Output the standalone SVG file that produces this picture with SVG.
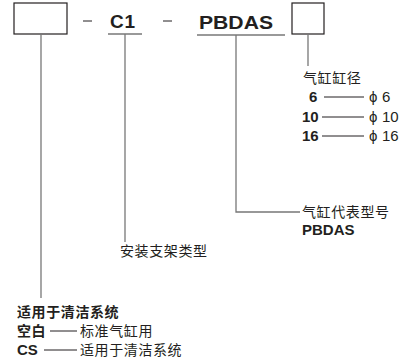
<svg xmlns="http://www.w3.org/2000/svg" width="404" height="361" viewBox="0 0 404 361">
<style>
.bx{fill:#fff;stroke:#231f20;stroke-width:1.2}
.ul{stroke:#777;stroke-width:1.3;fill:none}
.cn{stroke:#777;stroke-width:1.3;fill:none}
.dl{stroke:#231f20;stroke-width:1;fill:none}
.big{font-family:"Liberation Sans",Arial,sans-serif;font-weight:bold;font-size:19px;fill:#231f20}
.cjk{font-family:"Liberation Sans","Noto Sans CJK SC",sans-serif;font-size:14px;letter-spacing:0.6px;fill:#231f20}
.b{font-weight:bold}
.num{font-family:"Liberation Sans",Arial,sans-serif;font-size:15px;fill:#231f20}
</style>
<rect width="404" height="361" fill="#fff"/>
<g id="box1"><rect class="bx" x="14" y="3" width="53" height="31"/></g>
<g id="dash1"><line class="dl" x1="83" y1="21" x2="92" y2="21" stroke-width="1.6"/></g>
<g id="c1"><text class="big" x="110" y="28" textLength="25">C1</text><line class="ul" x1="108" y1="34" x2="142" y2="34"/></g>
<g id="dash2"><line class="dl" x1="163" y1="21" x2="172" y2="21" stroke-width="1.6"/></g>
<g id="pbdas"><text class="big" x="199" y="29" textLength="74" lengthAdjust="spacingAndGlyphs">PBDAS</text><line class="ul" x1="197" y1="35" x2="285" y2="35"/></g>
<g id="box2"><rect class="bx" x="292" y="3" width="32" height="31"/></g>
<g id="connectors">
<polyline class="cn" points="41,34 41,298"/>
<polyline class="cn" points="125,34 125,242"/>
<polyline class="cn" points="236,35 236,212 300,212"/>
<polyline class="cn" points="308,34 308,66"/>
</g>
<g id="bore">
<text class="cjk" x="303" y="83" letter-spacing="1.2">气缸缸径</text>
<text class="num b" x="309" y="102">6</text><line class="dl" x1="324" y1="97" x2="364" y2="97"/><text class="num" x="369" y="102">ϕ</text><text class="num" x="382" y="102">6</text>
<text class="num b" x="302" y="122">10</text><line class="dl" x1="322" y1="117" x2="364" y2="117"/><text class="num" x="369" y="122">ϕ</text><text class="num" x="382" y="122">10</text>
<text class="num b" x="302" y="141">16</text><line class="dl" x1="322" y1="136" x2="364" y2="136"/><text class="num" x="369" y="141">ϕ</text><text class="num" x="382" y="141">16</text>
</g>
<g id="model">
<text class="cjk" x="302" y="217">气缸代表型号</text>
<text class="num b" x="302" y="235">PBDAS</text>
</g>
<g id="mount"><text class="cjk" x="120" y="256" letter-spacing="1.6">安装支架类型</text></g>
<g id="clean">
<text class="cjk b" x="17" y="317" font-size="15" letter-spacing="0.9">适用于清洁系统</text>
<text class="cjk b" x="17" y="336" font-size="15">空白</text><line class="dl" x1="50" y1="331" x2="77" y2="331"/><text class="cjk" x="80" y="336" font-size="15" letter-spacing="0.9">标准气缸用</text>
<text class="num b" x="17" y="355">CS</text><line class="dl" x1="44" y1="350" x2="77" y2="350"/><text class="cjk" x="80" y="355" font-size="15" letter-spacing="0.9">适用于清洁系统</text>
</g>
</svg>
